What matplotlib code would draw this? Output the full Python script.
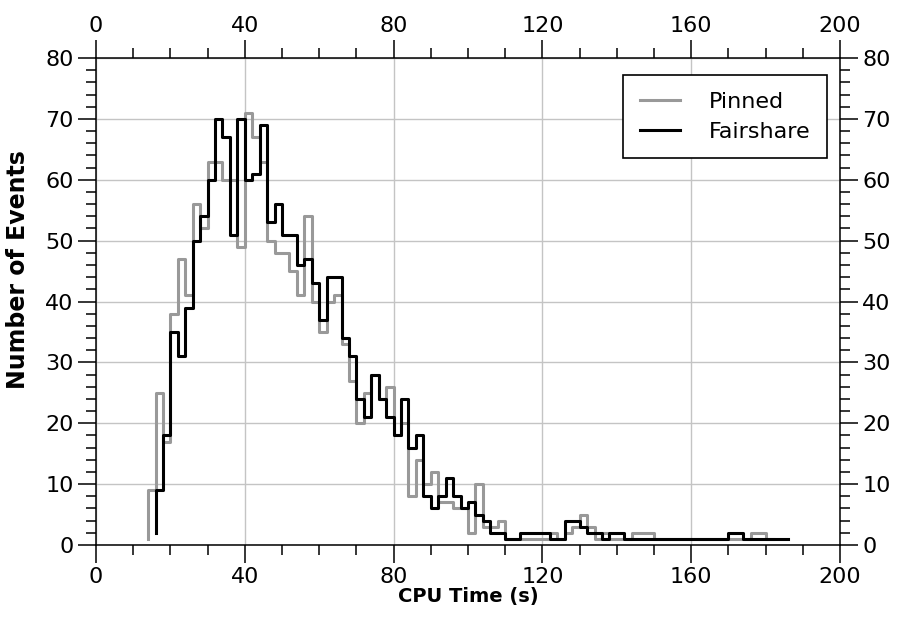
import matplotlib
matplotlib.use('Agg')
import matplotlib.pyplot as plt
from matplotlib.ticker import MultipleLocator
import numpy as np

# CPU time histograms, 2 s bins; first entry is the level the trace starts from
bin_width = 2
pinned_start = 14
pinned_first = 1
pinned_counts = [
    9, 25, 17, 38, 47, 41, 56, 52, 63, 63,
    60, 60, 49, 71, 67, 63, 50, 48, 48, 45,
    41, 54, 40, 35, 40, 41, 33, 27, 20, 25,
    28, 24, 26, 18, 20, 8, 14, 10, 12, 7,
    7, 6, 6, 2, 10, 3, 3, 4, 1, 1,
    1, 1, 1, 1, 2, 1, 2, 3, 5, 3,
    1, 2, 1, 1, 1, 2, 2, 2,
    1, 1, 1, 1, 1, 1, 1, 1, 1, 1, 1, 1, 1,
    2, 2, 1,
]

fair_start = 16
fair_first = 2
fair_counts = [
    9, 18, 35, 31, 39, 50, 54, 60, 70, 67,
    51, 70, 60, 61, 69, 53, 56, 51, 51, 46,
    47, 43, 37, 44, 44, 34, 31, 24, 21, 28,
    24, 21, 18, 24, 16, 18, 8, 6, 8, 11,
    8, 6, 7, 5, 4, 2, 2, 1, 1, 2,
    2, 2, 2, 1, 1, 4, 4, 3, 2, 2,
    1, 2, 2,
    1, 1, 1, 1, 1, 1, 1, 1, 1, 1, 1, 1, 1, 1,
    2, 2,
    1, 1, 1, 1, 1, 1,
]


def edges(start, counts):
    return start + bin_width * np.arange(len(counts) + 1)


plt.rcParams['font.family'] = ['DejaVu Sans']

fig = plt.figure(figsize=(8.97, 6.26), dpi=100)
ax = fig.add_axes([0.107, 0.1294, 0.8295, 0.7779])

ax.step(edges(pinned_start, pinned_counts), [pinned_first] + pinned_counts,
        where='pre', color='#999999', linewidth=2.2, label='Pinned', zorder=3)
ax.step(edges(fair_start, fair_counts), [fair_first] + fair_counts,
        where='pre', color='black', linewidth=2.2, label='Fairshare', zorder=4)

ax.set_xlim(0, 200)
ax.set_ylim(0, 80)
ax.xaxis.set_major_locator(MultipleLocator(40))
ax.xaxis.set_minor_locator(MultipleLocator(10))
ax.yaxis.set_major_locator(MultipleLocator(10))
ax.yaxis.set_minor_locator(MultipleLocator(2))

ax.grid(which='major', color='#c4c4c4', linewidth=1.0, zorder=0)
ax.set_axisbelow(True)

ax.tick_params(which='both', direction='out', top=True, right=True,
               labeltop=True, labelright=True, width=1.1, colors='black')
ax.tick_params(which='major', length=13, labelsize=16, pad=3)
ax.tick_params(which='minor', length=7)
for s in ax.spines.values():
    s.set_linewidth(1.1)

ax.set_xlabel('CPU Time (s)', fontsize=14, fontweight='bold', labelpad=0)
ax.set_ylabel('Number of Events', fontsize=17, fontweight='bold')
ax.yaxis.set_label_coords(-0.089, 0.565)

leg = ax.legend(loc='upper right', bbox_to_anchor=(0.9825, 0.965), fontsize=16,
                frameon=True, fancybox=False, edgecolor='black',
                handlelength=1.8, handletextpad=1.3, borderpad=0.75,
                labelspacing=0.45, borderaxespad=0)
leg.get_frame().set_linewidth(1.2)
leg.get_frame().set_alpha(1)

fig.savefig('out.png', dpi=100, facecolor='white')
